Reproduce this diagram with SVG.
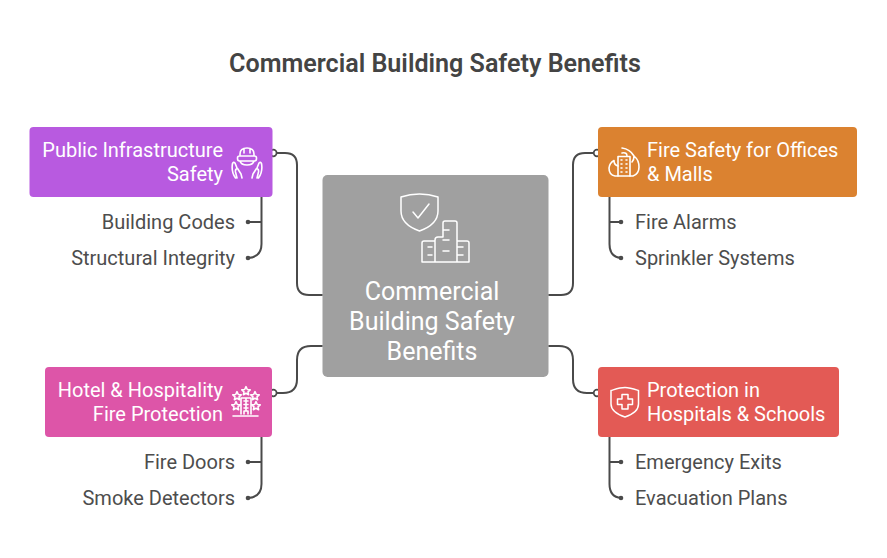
<svg xmlns="http://www.w3.org/2000/svg" width="887" height="558" viewBox="0 0 887 558">
<defs>
<path id="star" d="M0 -4.300L1.300 -1.500L4.200 -1.200L2 0.800L2.600 3.700L0 2.200L-2.600 3.700L-2 0.800L-4.200 -1.200L-1.300 -1.500Z"/>
</defs>
<style>
text{font-family:Roboto,"Liberation Sans",sans-serif}
.title{font-size:25.100px;font-weight:600;fill:#444;text-anchor:middle}
.t{font-size:20px;fill:#fff}
.c{font-size:25px;fill:#fff;text-anchor:middle}
.i{font-size:20px;fill:#4d4d4d}
.e{text-anchor:end}
.ln{fill:none;stroke:#4a4a4a;stroke-width:2;stroke-linecap:round}
.dot{fill:#4a4a4a}
.ring{fill:#fff;stroke:#4a4a4a;stroke-width:1.700}
.ic{fill:none;stroke:#fff;stroke-width:1.500;stroke-linecap:round;stroke-linejoin:round}
.ib{fill:none;stroke:#fff;stroke-width:1.600;stroke-linecap:round;stroke-linejoin:round}
</style>
<rect width="887" height="558" fill="#fff"/>
<text class="title" x="435" y="72">Commercial Building Safety Benefits</text>
<g id="connectors">
<path class="ln" d="M276 153H285Q297 153 297 165V283Q297 295 309 295H322"/>
<path class="ln" d="M594 153H585Q573 153 573 165V283Q573 295 561 295H549"/>
<path class="ln" d="M276 393H283Q297 393 297 379V360Q297 346 311 346H322"/>
<path class="ln" d="M594 393H587Q573 393 573 379V360Q573 346 559 346H549"/>
<path class="ln" d="M261.500 197V244Q261.500 257 248 258M261.500 222H248"/>
<path class="ln" d="M609.500 197V244Q609.500 257 621 258M609.500 222H621"/>
<path class="ln" d="M261.500 437V484Q261.500 497 248 498M261.500 462H248"/>
<path class="ln" d="M609.500 437V484Q609.500 497 621 498M609.500 462H621"/>
<circle class="dot" cx="248" cy="222" r="2.300"/><circle class="dot" cx="248" cy="258" r="2.300"/>
<circle class="dot" cx="621" cy="222" r="2.300"/><circle class="dot" cx="621" cy="258" r="2.300"/>
<circle class="dot" cx="248" cy="462" r="2.300"/><circle class="dot" cx="248" cy="498" r="2.300"/>
<circle class="dot" cx="621" cy="462" r="2.300"/><circle class="dot" cx="621" cy="498" r="2.300"/>
<circle class="ring" cx="273.300" cy="153" r="3.300"/><circle class="ring" cx="597" cy="153" r="3.300"/>
<circle class="ring" cx="273.300" cy="393" r="3.300"/><circle class="ring" cx="597" cy="393" r="3.300"/>
</g>
<g id="center">
<rect x="322.500" y="175" width="226" height="202" rx="5" fill="#a0a0a0"/>
<path class="ic" d="M419.500 194C426 194 432 195 438 197V211C438 222 428 228 419.500 231C411 228 401 222 401 211V197C407 195 413 194 419.500 194Z"/>
<path class="ic" d="M413 212L418 218L429 204"/>
<path class="ic" d="M422 262V243Q422 241 424 241H435M435 262V240Q435 237 438 237H443V223Q443 221 445 221H455Q457 221 457 223V262M422 262H469V243Q469 241 467 241H457M428 247H432M428 255H432M443 230H449M443 240H449M443 251H449M458 247H463M458 255H463"/>
<text class="c" x="432" y="300">Commercial</text>
<text class="c" x="432" y="330">Building Safety</text>
<text class="c" x="432" y="360">Benefits</text>
</g>
<g id="public-infrastructure">
<rect x="29.500" y="127" width="243" height="70" rx="4" fill="#b85ae0"/>
<text class="t e" x="223" y="157">Public Infrastructure</text>
<text class="t e" x="223" y="181">Safety</text>
<path class="ib" d="M240 156V154Q240 148 247 148Q254 148 254 154V156M244 148.500V153M250 148.500V153M239.500 156H254.500Q256.500 156 256.500 158V158.500Q256.500 161 254.500 161H239.500Q237.500 161 237.500 158.500V158Q237.500 156 239.500 156ZM240 161Q241 165 247 165Q253 165 254 161"/>
<path class="ib" d="M235.500 178Q231 172 232.500 163.500Q233.500 161.500 235 163L237 168M237 178L235.500 172Q235 169 237.500 168.500L241 174L242 178M258.500 178Q263 172 261.500 163.500Q260.500 161.500 259 163L257 168M257 178L258.500 172Q259 169 256.500 168.500L253 174L252 178"/>
</g>
<g id="fire-safety">
<rect x="598" y="127" width="259" height="70" rx="4" fill="#db8230"/>
<text class="t" x="647" y="157">Fire Safety for Offices</text>
<text class="t" x="647" y="181">&amp; Malls</text>
<path class="ib" d="M618 156.500H630V176H618ZM621 160H622M626 160H627M621 164H622M626 164H627M621 168H622M626 168H627M621 172H622M626 172H627"/>
<path class="ib" d="M618 176H615Q609 175 609 168Q609.500 163 614 160.500Q614 165 618 166M630 176H633Q639 174 639 167Q639 160 634 156Q634 160 632 162M622 153Q627 152 627 156M622 148Q630 149 634 156"/>
</g>
<g id="hotel">
<rect x="45" y="367" width="227" height="70" rx="4" fill="#dd55a8"/>
<text class="t e" x="223" y="397">Hotel &amp; Hospitality</text>
<text class="t e" x="223" y="421">Fire Protection</text>
<g class="ib">
<use href="#star" x="246" y="391"/>
<use href="#star" x="237" y="396"/>
<use href="#star" x="255" y="396"/>
<use href="#star" x="236" y="406"/>
<use href="#star" x="256" y="406"/>
<path d="M241 414V398H251V414M244 401H248M244 404.500H248M244 408H248M246 398V411M244 414V411H248V414M233 416H258"/>
</g>
</g>
<g id="protection">
<rect x="598" y="367" width="241" height="70" rx="4" fill="#e35a55"/>
<text class="t" x="647" y="397">Protection in</text>
<text class="t" x="647" y="421">Hospitals &amp; Schools</text>
<path class="ic" d="M625 387.500C630 387.500 634 389 638.500 390.500V404C638.500 411 631 415 625 417C619 415 611 411 611 404V390.500C616 389 620 387.500 625 387.500Z"/>
<path class="ic" d="M622 394.500H628V399H632.500V404.500H628V409H622V404.500H617.500V399H622Z"/>
</g>
<g id="items">
<text class="i e" x="235" y="229">Building Codes</text>
<text class="i e" x="235" y="265">Structural Integrity</text>
<text class="i" x="635" y="229">Fire Alarms</text>
<text class="i" x="635" y="265">Sprinkler Systems</text>
<text class="i e" x="235" y="469">Fire Doors</text>
<text class="i e" x="235" y="505">Smoke Detectors</text>
<text class="i" x="635" y="469">Emergency Exits</text>
<text class="i" x="635" y="505">Evacuation Plans</text>
</g>
</svg>
